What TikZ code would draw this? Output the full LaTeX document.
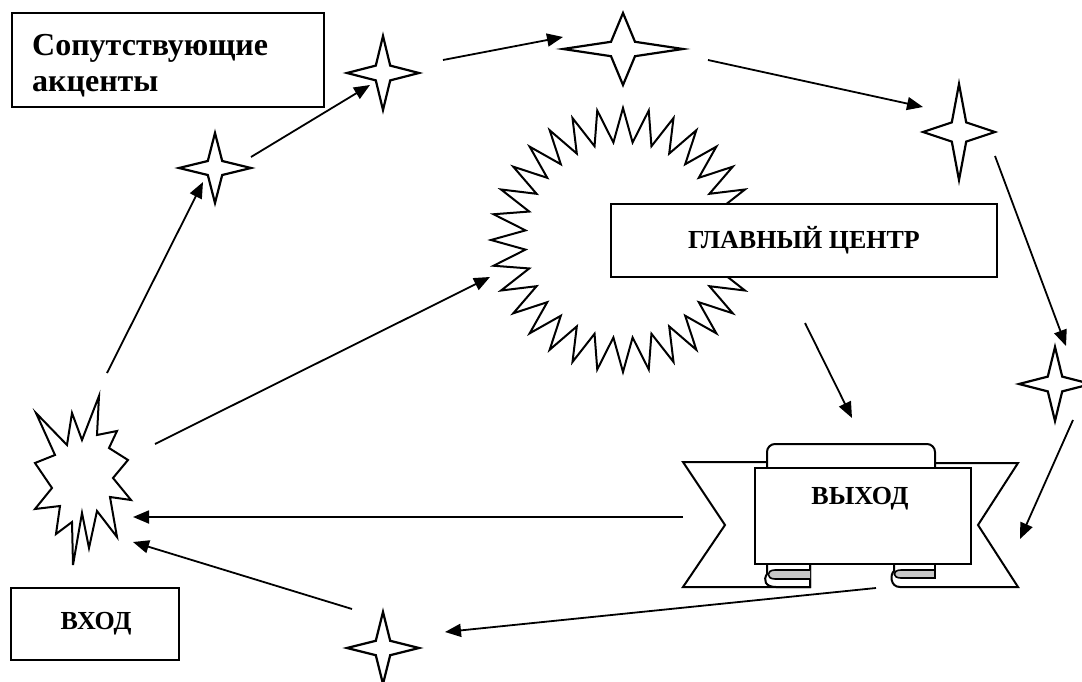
\documentclass[tikz,border=0pt]{standalone}
\usepackage{fontspec}
\setmainfont{Liberation Serif}
\usetikzlibrary{arrows.meta}
\newcommand\mysparkle[5]{%
  \coordinate (#1) at (#2,#3);
  \draw[starline] ({#2},{#3-#5}) -- ({#2+0.2*#4},{#3-0.2*#5}) -- ({#2+#4},{#3})
    -- ({#2+0.2*#4},{#3+0.2*#5}) -- ({#2},{#3+#5}) -- ({#2-0.2*#4},{#3+0.2*#5})
    -- ({#2-#4},{#3}) -- ({#2-0.2*#4},{#3-0.2*#5}) -- cycle;}
\begin{document}
\begin{tikzpicture}[x=1pt,y=-1pt,
  shp/.style={draw=black, line width=2pt, fill=white, line join=miter},
  starline/.style={draw=black, line width=2.2pt, fill=white, line join=miter},
  rollfill/.style={draw=black, line width=1.6pt, fill=black!22},
  box/.style={draw=black, line width=1.8pt, fill=white, inner sep=0pt,
    font=\bfseries\fontsize{26}{30}\selectfont},
  lbl/.style={inner sep=0pt, font=\bfseries\fontsize{26}{30}\selectfont},
  conn/.style={line width=1.8pt, -{Triangle[length=16pt,width=13pt]}},
]
\useasboundingbox[fill=white] (0,0) rectangle (1082,682);

% main centre: zigzag sun
\coordinate (sun) at (623,240);
\draw[shp, shift={(623,240)}] (0:132)
  \foreach \i in {1,...,63}{ -- ({\i*5.625}:{115+17*cos(\i*180)}) } -- cycle;
\node[box, minimum width=386pt, minimum height=73pt] (main) at (804,240.5) {ГЛАВНЫЙ ЦЕНТР};

% entry burst
\coordinate (burst) at (82,480);
\draw[shp] (36,413) -- (55,455) -- (35,463) -- (52,488) -- (35,509) -- (60,506)
  -- (56,534) -- (72,522) -- (73,565) -- (82,513) -- (89,548) -- (97,511)
  -- (117,537) -- (110,497) -- (131,500) -- (113,478) -- (128,460) -- (109,448)
  -- (117,431) -- (97,435) -- (99,396) -- (82,440) -- (72,413) -- (67,445) -- cycle;

% text boxes
\node[box, minimum width=312pt, minimum height=94pt] (acc) at (168,60) {};
\node[inner sep=0pt, text width=272pt, align=left, anchor=north west,
  font=\bfseries\fontsize{32}{36}\selectfont] (acctxt) at (32,34) {Сопутствующие\\акценты};
\node[box, minimum width=168pt, minimum height=72pt] (vhod) at (95,624) {};
\node[lbl] (vhodtxt) at (96,624) {ВХОД};

% exit ribbon
\draw[shp] (683,462) -- (725,525) -- (683,587) -- (810,587) -- (810,462) -- cycle;
\draw[shp] (1018,463) -- (978,525) -- (1018,587) -- (900,587)
  .. controls (890,587) and (890,574) .. (894,571) -- (894,463) -- cycle;
\draw[shp, rounded corners=8pt] (767,480) -- (767,444) -- (935,444) -- (935,480);
\draw[shp] (767,560) -- (767,574) .. controls (763,580) and (765,587) .. (776,587)
  -- (810,587) -- (810,560);
\draw[rollfill] (810,570) -- (775,570) .. controls (766,570) and (766,579) .. (775,579) -- (810,579);
\draw[rollfill] (935,560) -- (935,578) -- (901,578) .. controls (892,578) and (892,570) .. (901,570) -- (935,570);
\node[box, minimum width=216pt, minimum height=96pt] (vyhod) at (863,516) {};
\node[lbl] (vyhodtxt) at (860,499) {ВЫХОД};

% accent sparkles
\mysparkle{sA}{215}{168}{36}{35}
\mysparkle{sB}{383}{73}{36}{37}
\mysparkle{sC}{623}{49}{60}{36}
\mysparkle{sD}{959}{132}{36}{48}
\mysparkle{sE}{1055}{384}{36}{37}
\mysparkle{sF}{383}{648}{36}{36}

% connector ends
\coordinate (a1s) at (107,373);  \coordinate (a1e) at (203,182);
\coordinate (a2s) at (251,157);  \coordinate (a2e) at (370,85);
\coordinate (a3s) at (443,60);   \coordinate (a3e) at (563,37);
\coordinate (a4s) at (708,60);   \coordinate (a4e) at (923,107);
\coordinate (a5s) at (995,156);  \coordinate (a5e) at (1066,346);
\coordinate (a6s) at (1073,420); \coordinate (a6e) at (1020,539);
\coordinate (a7s) at (805,323);  \coordinate (a7e) at (852,418);
\coordinate (a8s) at (683,517);  \coordinate (a8e) at (133,517);
\coordinate (a9s) at (876,588);  \coordinate (a9e) at (445,632);
\coordinate (a10s) at (352,609); \coordinate (a10e) at (133,542);
\coordinate (a11s) at (155,444); \coordinate (a11e) at (490,277);

\draw[conn] (a1s) -- (a1e);
\draw[conn] (a2s) -- (a2e);
\draw[conn] (a3s) -- (a3e);
\draw[conn] (a4s) -- (a4e);
\draw[conn] (a5s) -- (a5e);
\draw[conn] (a6s) -- (a6e);
\draw[conn] (a7s) -- (a7e);
\draw[conn] (a8s) -- (a8e);
\draw[conn] (a9s) -- (a9e);
\draw[conn] (a10s) -- (a10e);
\draw[conn] (a11s) -- (a11e);
\end{tikzpicture}
\end{document}
